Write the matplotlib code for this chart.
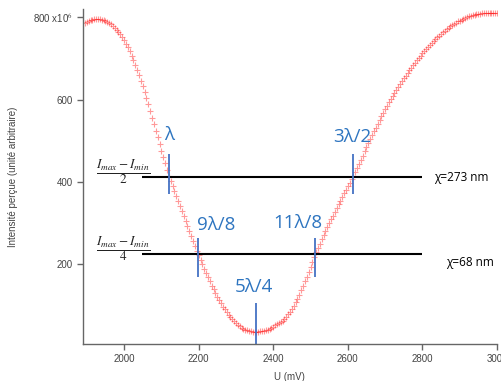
import matplotlib
matplotlib.use("Agg")
import matplotlib.pyplot as plt

# ---- data ----
voltage_mv = list(range(1895, 3001, 5))
intensity = [
    787, 789, 791, 793, 794, 795, 795, 795, 795, 794,   # 1895-1940
    793, 791, 789, 786, 783, 779, 775, 770, 765, 759,   # 1945-1990
    752, 744, 736, 727, 717, 707, 696, 684, 672, 659,   # 1995-2040
    646, 632, 618, 603, 588, 572, 556, 540, 524, 508,   # 2045-2090
    492, 476, 460, 445, 430, 415, 403, 391, 378, 366,   # 2095-2140
    353, 341, 329, 317, 305, 293, 281, 269, 257, 245,   # 2145-2190
    233, 222, 211, 200, 189, 178, 168, 158, 148, 139,   # 2195-2240
    130, 121, 113, 105, 97, 90, 83, 77, 71, 66,         # 2245-2290
    61, 57, 53, 49, 46, 43, 41, 39, 38, 37,             # 2295-2340
    36, 36, 36, 36, 37, 37, 38, 39, 41, 43,             # 2345-2390
    45, 48, 51, 54, 57, 60, 63, 67, 72, 78,             # 2395-2440
    84, 91, 99, 107, 116, 126, 137, 148, 159, 170,      # 2445-2490
    181, 193, 205, 217, 229, 239, 250, 260, 270, 280,   # 2495-2540
    290, 300, 309, 318, 327, 336, 345, 354, 363, 372,   # 2545-2590
    381, 390, 398, 406, 414, 424, 434, 444, 454, 464,   # 2595-2640
    474, 484, 494, 504, 514, 523, 532, 541, 550, 559,   # 2645-2690
    568, 577, 585, 593, 601, 609, 617, 624, 631, 638,   # 2695-2740
    645, 652, 658, 665, 671, 677, 684, 690, 696, 702,   # 2745-2790
    707, 712, 717, 722, 727, 732, 737, 742, 747, 751,   # 2795-2840
    755, 759, 763, 767, 771, 775, 778, 781, 784, 787,   # 2845-2890
    790, 792, 794, 796, 798, 800, 802, 804, 805, 806,   # 2895-2940
    807, 808, 809, 810, 810, 811, 811, 811, 811, 811,   # 2945-2990
    811, 810,                                           # 2995-3000
]

x_ticks = [2000, 2200, 2400, 2600, 2800, 3000]
y_ticks = [200, 400, 600, 800]
y_tick_labels = ["200", "400", "600", "800 x10$^{6}$"]

level_values = [412, 225]            # horizontal reference levels
level_span = [2048, 2800]
level_fracs = [r"$\dfrac{I_{max}-I_{min}}{2}$", r"$\dfrac{I_{max}-I_{min}}{4}$"]
level_labels = ["χ=273 nm", "χ=68 nm"]
level_label_pos = [(2832, 411), (2864, 205)]
frac_pos = [(1997, 425), (1997, 237)]

marks_u = [2121, 2198, 2353, 2512, 2614]
marks_lo = [371, 170, 6, 168, 371]
marks_hi = [468, 264, 105, 263, 467]
mark_labels = ["λ", "9λ/8", "5λ/4", "11λ/8", "3λ/2"]
mark_label_pos = [(2121, 514), (2247, 295), (2348, 145), (2465, 300), (2613, 510)]

plt.rcParams["mathtext.fontset"] = "stix"

fig = plt.figure(figsize=(5.01, 3.81), dpi=100)
W, H = 501, 381
ax = fig.add_axes([82.7 / W, (H - 344) / H, (497 - 82.7) / W, (344 - 9) / H])

ax.plot(voltage_mv, intensity, linestyle="none", marker="+", markersize=5,
        markeredgewidth=0.8, color=(1, 0, 0, 0.4))

for yv in level_values:
    ax.plot(level_span, [yv, yv], color="black", lw=1.5, solid_capstyle="butt")

blue_line = "#4472C4"
blue_text = "#2E75C0"
for u, lo, hi in zip(marks_u, marks_lo, marks_hi):
    ax.plot([u, u], [lo, hi], color=blue_line, lw=1.3, solid_capstyle="butt")

for lab, (u, v) in zip(mark_labels, mark_label_pos):
    ax.text(u, v, lab, color=blue_text, fontsize=13.5, ha="center", va="center",
            family=["Open Sans", "DejaVu Sans"])

for lab, (u, v) in zip(level_labels, level_label_pos):
    ax.text(u, v, lab, color="black", fontsize=8.5, ha="left", va="center",
            family=["Open Sans", "DejaVu Sans"])

for fr, (u, v) in zip(level_fracs, frac_pos):
    ax.text(u, v, fr, color="#222222", fontsize=9.5, ha="center", va="center")

ax.set_xlim(1889, 3000)
ax.set_ylim(6, 820)
ax.set_xticks(x_ticks)
ax.set_yticks(y_ticks)
ax.set_yticklabels(y_tick_labels)

for s in ["top", "right"]:
    ax.spines[s].set_visible(False)
for s in ["left", "bottom"]:
    ax.spines[s].set_color("#666666")
    ax.spines[s].set_linewidth(1.0)
ax.tick_params(direction="out", length=4, width=1.0, color="#666666",
               labelsize=7, labelcolor="#444444", pad=3)
for lbl in ax.get_xticklabels() + ax.get_yticklabels():
    lbl.set_family("Liberation Sans")

ax.set_xlabel("U (mV)", fontsize=7, color="#444444", family="Liberation Sans")
ax.xaxis.set_label_coords(0.5, -0.085)
ax.set_ylabel("Intensité perçue (unité arbitraire)", fontsize=7, color="#444444",
              family="Liberation Sans")
ax.yaxis.set_label_coords(-0.156, 0.5)

fig.savefig("out.png", dpi=100)
